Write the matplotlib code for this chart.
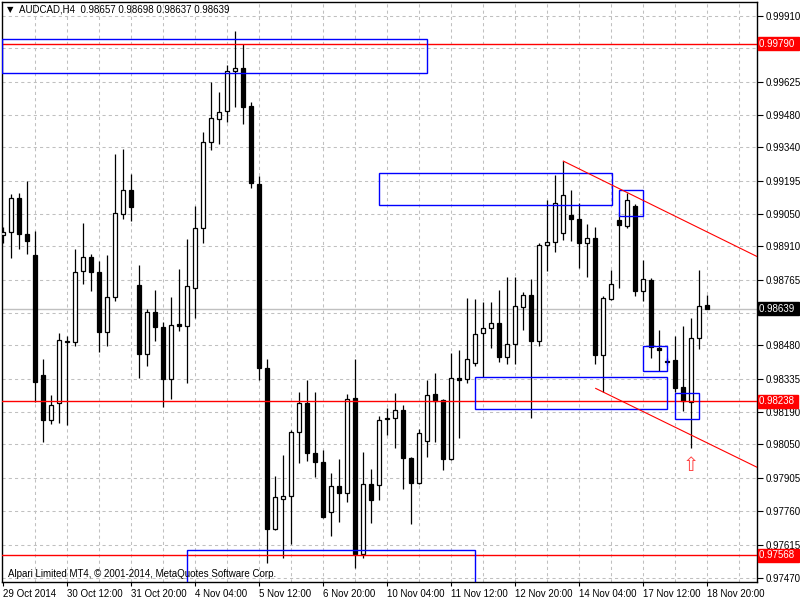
import numpy as np
import matplotlib
matplotlib.use('Agg')
import matplotlib.pyplot as plt
from matplotlib.patches import Rectangle
import matplotlib.transforms as mtransforms


# AUDCAD H4 CANDLES, PRICES IN POINTS (1 POINT = 0.00001)
open_pts = [98959, 98972, 99120, 98963, 98872, 98351, 98156, 98230, 98495, 98495,
            98803, 98864, 98799, 98538, 98690, 99050, 99155, 98742, 98442, 98625,
            98560, 98334, 98573, 98564, 98729, 98990, 99363, 99463, 99498, 99671,
            99684, 99519, 99181, 98382, 97683, 97813, 97826, 98104, 98230, 98013,
            97974, 97756, 97869, 97839, 98251, 97574, 97878, 97874, 98160, 98165,
            98199, 97991, 97882, 98065, 98269, 98243, 97987, 98338, 98334, 98403,
            98534, 98555, 98577, 98429, 98486, 98646, 98699, 98499, 98916, 98929,
            98968, 99046, 99029, 98924, 98946, 98438, 98681, 99024, 98998, 99085,
            98716, 98764, 98469, 98412, 98416, 98299, 98234, 98512, 98657]
high_pts = [98994, 99137, 99141, 99194, 98976, 98421, 98264, 98534, 98521, 98898,
            99011, 98877, 98846, 98872, 99311, 99333, 99224, 98829, 98638, 98720,
            98581, 98690, 98812, 98942, 99085, 99406, 99623, 99580, 99697, 99845,
            99788, 99537, 99215, 98421, 97913, 98004, 98112, 98277, 98330, 98277,
            98026, 97926, 97987, 98269, 98421, 98017, 97943, 98173, 98208, 98273,
            98221, 97995, 98117, 98330, 98360, 98247, 98447, 98460, 98686, 98681,
            98668, 98668, 98720, 98777, 98777, 98712, 98768, 98924, 99111, 99220,
            99280, 99155, 99098, 99007, 98994, 98694, 98807, 99059, 99141, 99094,
            98851, 98772, 98547, 98425, 98521, 98564, 98599, 98807, 98698]
low_pts = [98924, 98859, 98898, 98877, 98234, 98060, 98138, 98143, 98134, 98477,
           98746, 98716, 98451, 98477, 98673, 99029, 99020, 98338, 98390, 98499,
           98212, 98247, 98542, 98317, 98599, 98924, 99328, 99354, 99450, 99515,
           99441, 99163, 98330, 97535, 97678, 97557, 97617, 97969, 97978, 97908,
           97730, 97652, 97713, 97800, 97513, 97557, 97709, 97808, 98091, 98034,
           97856, 97704, 97878, 97995, 98060, 97939, 97982, 98078, 98317, 98390,
           98343, 98469, 98408, 98399, 98399, 98547, 98165, 98477, 98803, 98885,
           98937, 98933, 98816, 98777, 98399, 98277, 98677, 98729, 98990, 98694,
           98673, 98425, 98369, 98395, 98277, 98195, 98034, 98464, 98637]
close_pts = [98972, 99120, 98963, 98933, 98321, 98156, 98221, 98503, 98497, 98799,
             98864, 98799, 98538, 98690, 99055, 99155, 99081, 98442, 98625, 98560,
             98334, 98568, 98566, 98738, 98990, 99363, 99467, 99493, 99671, 99684,
             99515, 99185, 98382, 97683, 97822, 97826, 98104, 98230, 98013, 97974,
             97735, 97869, 97839, 98247, 97574, 97878, 97808, 98156, 98165, 98199,
             97991, 97882, 98099, 98264, 98238, 97987, 98338, 98330, 98421, 98529,
             98555, 98577, 98429, 98486, 98651, 98699, 98499, 98916, 98929, 99098,
             99133, 99029, 98924, 98946, 98438, 98686, 98746, 99003, 99111, 98716,
             98768, 98473, 98460, 98408, 98295, 98238, 98512, 98651, 98639]

# TIME AXIS LABELS (CANDLE INDEX -> TEXT)
x_label_idx = [0, 8, 16, 24, 32, 40, 48, 56, 64, 72, 80, 88]
x_labels = ['29 Oct 2014', '30 Oct 12:00', '31 Oct 20:00', '4 Nov 04:00', '5 Nov 12:00',
            '6 Nov 20:00', '10 Nov 04:00', '11 Nov 12:00', '12 Nov 20:00', '14 Nov 04:00',
            '17 Nov 12:00', '18 Nov 20:00']

# PRICE AXIS (0.99770 AND 0.98620 SIT UNDER THE PRICE TAGS)
y_ticks = [0.99910, 0.99770, 0.99625, 0.99480, 0.99340, 0.99195, 0.99050, 0.98910, 0.98765,
           0.98620, 0.98480, 0.98335, 0.98190, 0.98050, 0.97905, 0.97760, 0.97615, 0.97470]
hidden_ticks = [0.99770, 0.98620]
y_labels = ['' if v in hidden_ticks else '%.5f' % v for v in y_ticks]

# LEVELS, ZONES AND TRENDLINES DRAWN ON THE CHART
red_levels = [0.99790, 0.98238, 0.97568]
last_price = 0.98639
zones = [(-0.16, 52.96, 0.99811, 0.99661),   # x0, x1, top, bottom
         (23.0, 59.0, 0.97590, 0.97440),
         (47.0, 76.05, 0.99228, 0.99089),
         (59.0, 83.0, 0.98341, 0.98202),
         (77.0, 80.0, 0.99154, 0.99042),
         (80.0, 83.0, 0.98477, 0.98369),
         (84.0, 87.0, 0.98272, 0.98159)]
trend_lines = [((70.0, 0.99280), (94.25, 0.98865)),
               ((74.05, 0.98293), (94.25, 0.97950))]
arrow_pos = (86.0, 0.97960)

o = np.array(open_pts) / 1e5
h = np.array(high_pts) / 1e5
l = np.array(low_pts) / 1e5
c = np.array(close_pts) / 1e5

plt.rcParams['font.family'] = ['Liberation Sans', 'DejaVu Sans']

fig = plt.figure(figsize=(8, 6), dpi=100)
ax = fig.add_axes([2 / 800, 18 / 600, 755 / 800, 580 / 600])
ax.set_xlim(-0.16, 94.21)
ax.set_ylim(0.974524, 0.999708)

# GRID (DASHED, EVERY 4 CANDLES AND AT EACH PRICE TICK)
for gx in range(4, 95, 4):
    ax.axvline(gx, color='#c0c0c0', lw=0.75, ls=(0, (3, 3)), zorder=0)
for gy in y_ticks:
    ax.axhline(gy, color='#c0c0c0', lw=0.75, ls=(0, (3, 3)), zorder=0)

# CURRENT PRICE LINE
ax.axhline(last_price, color='#c0c0c0', lw=1.0, zorder=1)

# CANDLES
bw = 0.5
for i in range(len(o)):
    ax.vlines(i, l[i], h[i], color='black', lw=0.9, zorder=2)
    bull = c[i] >= o[i]
    bottom = min(o[i], c[i])
    height = abs(c[i] - o[i])
    ax.add_patch(Rectangle((i - bw / 2, bottom), bw, height,
                           facecolor='white' if bull else 'black',
                           edgecolor='black', lw=0.9, zorder=3))

# HORIZONTAL LEVELS
for lvl in red_levels:
    ax.axhline(lvl, color='red', lw=1.0, zorder=4)

# ZONES
for x0, x1, top, bot in zones:
    ax.add_patch(Rectangle((x0, bot), x1 - x0, top - bot, fill=False,
                           edgecolor='#0000ff', lw=1.0, zorder=4))

# TRENDLINES
for (xa, ya), (xb, yb) in trend_lines:
    ax.plot([xa, xb], [ya, yb], color='red', lw=0.8, zorder=4)

# BUY ARROW
ax.text(arrow_pos[0], arrow_pos[1], '\u21e7', color='#ff4040', fontsize=14,
        ha='center', va='center', family='DejaVu Sans', zorder=5)

# AXES STYLE
for side in ['top', 'bottom', 'left', 'right']:
    ax.spines[side].set_linewidth(1.0)
    ax.spines[side].set_color('black')
ax.yaxis.tick_right()
ax.set_yticks(y_ticks)
ax.set_yticklabels(y_labels)
ax.tick_params(axis='y', direction='out', length=4, width=0.8, labelsize=7, pad=2)
ax.set_xticks(x_label_idx)
ax.set_xticklabels(x_labels, ha='left')
ax.tick_params(axis='x', direction='out', length=3, width=0.8, labelsize=7, pad=2)

# PRICE TAGS ON THE RIGHT
trans = mtransforms.blended_transform_factory(ax.transAxes, ax.transData)
for lvl in red_levels:
    ax.text(1.003, lvl, '%.5f ' % lvl, transform=trans, color='white', fontsize=7,
            ha='left', va='center', clip_on=False, zorder=6,
            bbox=dict(boxstyle='square,pad=0.15', fc='red', ec='red'))
ax.text(1.003, last_price, '%.5f ' % last_price, transform=trans, color='white', fontsize=7,
        ha='left', va='center', clip_on=False, zorder=6,
        bbox=dict(boxstyle='square,pad=0.15', fc='black', ec='black'))

# HEADER AND FOOTER TEXT
fig.text(7 / 800, 1 - 10 / 600, '\u25bc', fontsize=6, va='center', ha='left', family='DejaVu Sans')
fig.text(19 / 800, 1 - 10 / 600, 'AUDCAD,H4  0.98657 0.98698 0.98637 0.98639',
         fontsize=7, va='center', ha='left')
fig.text(8 / 800, 1 - 574 / 600, 'Alpari Limited MT4, \u00a9 2001-2014, MetaQuotes Software Corp.',
         fontsize=7, va='center', ha='left')

fig.savefig('out.png', dpi=100)
